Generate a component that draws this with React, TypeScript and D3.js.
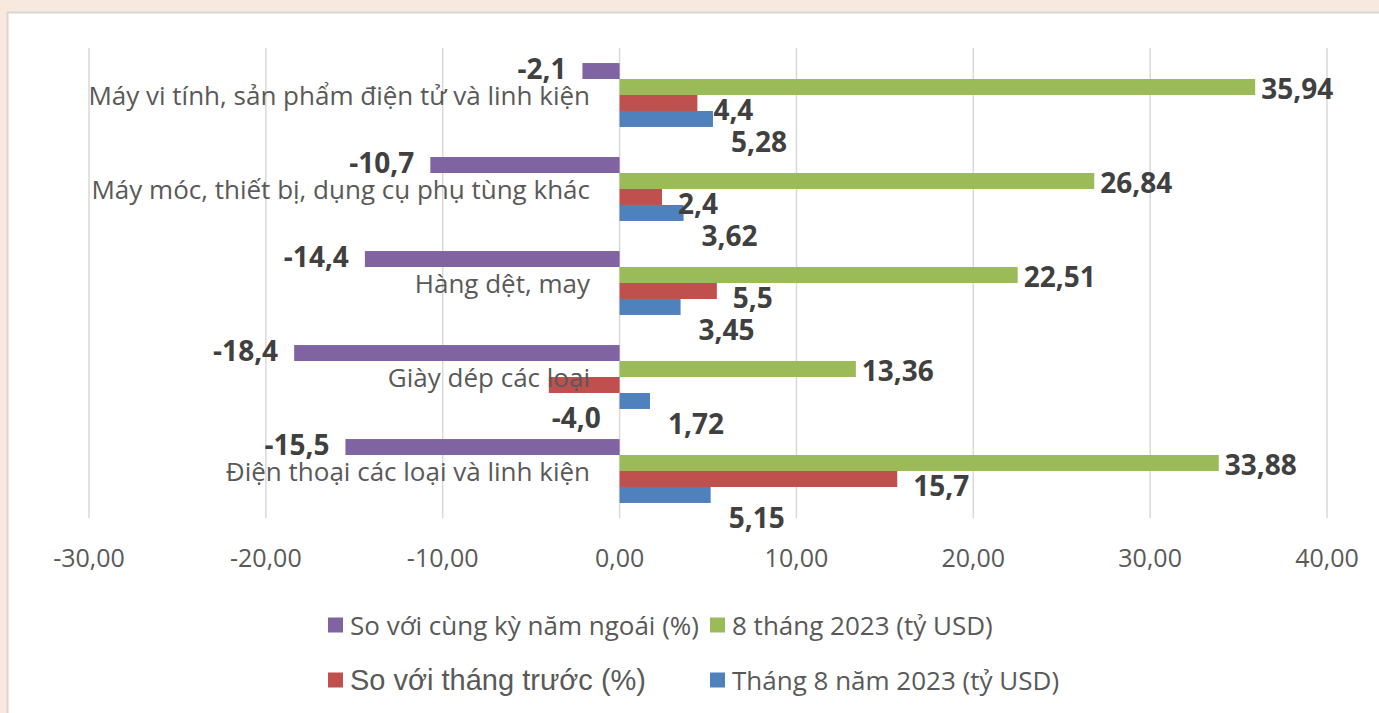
import React from "react";
import * as d3 from "d3";

const categories = [
  "Máy vi tính, sản phẩm điện tử và linh kiện",
  "Máy móc, thiết bị, dụng cụ phụ tùng khác",
  "Hàng dệt, may",
  "Giày dép các loại",
  "Điện thoại các loại và linh kiện",
];
const seriesNames = [
  "So với cùng kỳ năm ngoái (%)",
  "8 tháng 2023 (tỷ USD)",
  "So với tháng trước (%)",
  "Tháng 8 năm 2023 (tỷ USD)",
];
const yoy = [-2.1, -10.7, -14.4, -18.4, -15.5];
const eightMonths = [35.94, 26.84, 22.51, 13.36, 33.88];
const mom = [4.4, 2.4, 5.5, -4.0, 15.7];
const august = [5.28, 3.62, 3.45, 1.72, 5.15];
const xTicks = [-30, -20, -10, 0, 10, 20, 30, 40];

const seriesValues = [yoy, eightMonths, mom, august];
const seriesDecimals = [1, 2, 1, 2];
const colors = ["#8064a2", "#9bbb59", "#c0504d", "#4f81bd"];

const W = 1379;
const H = 713;
const FONT = "'Open Sans', 'Noto Sans', sans-serif";
const FONT_ALT = "'Liberation Sans', Arial, sans-serif";
const fmt = (v: number, d: number) => v.toFixed(d).replace(".", ",");

export default function App() {
  const x = d3.scaleLinear().domain([-30, 40]).range([89, 1327]);
  const y0 = d3
    .scaleBand<string>()
    .domain(categories)
    .range([48, 518])
    .paddingInner(0.32)
    .paddingOuter(0.16);
  const y1 = d3
    .scaleBand<string>()
    .domain(seriesNames)
    .range([0, y0.bandwidth()]);
  const bh = y1.bandwidth();
  const band = y0.step();

  const labelPos = (si: number, v: number, top: number) => {
    const xv = x(v);
    const x0 = x(0);
    const cy = top + bh / 2;
    if (si === 0) return { lx: xv - 16, ly: cy - 3, anchor: "end" };
    if (si === 1) return { lx: xv + 6, ly: cy + 1, anchor: "start" };
    if (si === 2) {
      if (v < 0) return { lx: (xv + x0) / 2 - 8, ly: top + bh + 24, anchor: "middle" };
      return { lx: xv + 16, ly: top + bh - 2, anchor: "start" };
    }
    return { lx: xv + 18, ly: top + bh + 14, anchor: "start" };
  };

  return (
    <svg
      width={W}
      height={H}
      style={{ position: "absolute", left: 0, top: 0, display: "block" }}
    >
      <rect x={0} y={0} width={W} height={H} fill="#f8e9df" />
      <rect x={7.5} y={12.5} width={W + 20} height={H + 20} fill="#ffffff" stroke="#d9d6d4" strokeWidth={2} />
      {xTicks.map((t) => (
        <g key={t}>
          <line x1={x(t)} x2={x(t)} y1={48} y2={518} stroke="#d9d9d9" strokeWidth={1.5} />
          <text
            x={x(t)}
            y={557}
            textAnchor="middle"
            dominantBaseline="central"
            fontFamily={FONT}
            fontSize={25}
            fill="#595959"
          >
            {fmt(t, 2)}
          </text>
        </g>
      ))}
      {categories.map((c, ci) => (
        <g key={c}>
          {seriesValues.map((vals, si) => {
            const v = vals[ci];
            const top = (y0(c) as number) + (y1(seriesNames[si]) as number);
            return (
              <rect
                key={si}
                x={Math.min(x(v), x(0))}
                y={top}
                width={Math.abs(x(v) - x(0))}
                height={bh}
                fill={colors[si]}
              />
            );
          })}
          <text
            x={590}
            y={(y0(c) as number) - band * 0.16 + band / 2}
            textAnchor="end"
            dominantBaseline="central"
            fontFamily={FONT}
            fontSize={26}
            fill="#595959"
          >
            {c}
          </text>
        </g>
      ))}
      {categories.map((c, ci) => (
        <g key={"l" + c}>
          {seriesValues.map((vals, si) => {
            const v = vals[ci];
            const top = (y0(c) as number) + (y1(seriesNames[si]) as number);
            const p = labelPos(si, v, top);
            return (
              <text
                key={si}
                x={p.lx}
                y={p.ly}
                textAnchor={p.anchor as any}
                dominantBaseline="central"
                fontFamily={FONT}
                fontWeight={700}
                fontSize={28}
                fill="#404040"
              >
                {fmt(v, seriesDecimals[si])}
              </text>
            );
          })}
        </g>
      ))}
      {seriesNames.map((s, si) => {
        const col = si % 2;
        const row = Math.floor(si / 2);
        const lx = col === 0 ? 328 : 710;
        const ly = row === 0 ? 625 : 680;
        const alt = si === 2;
        return (
          <g key={s}>
            <rect x={lx} y={ly - 7.5} width={15} height={15} fill={colors[si]} />
            <text
              x={lx + 22}
              y={ly}
              dominantBaseline="central"
              fontFamily={alt ? FONT_ALT : FONT}
              fontSize={alt ? 29 : 26}
              fill="#595959"
            >
              {s}
            </text>
          </g>
        );
      })}
    </svg>
  );
}
